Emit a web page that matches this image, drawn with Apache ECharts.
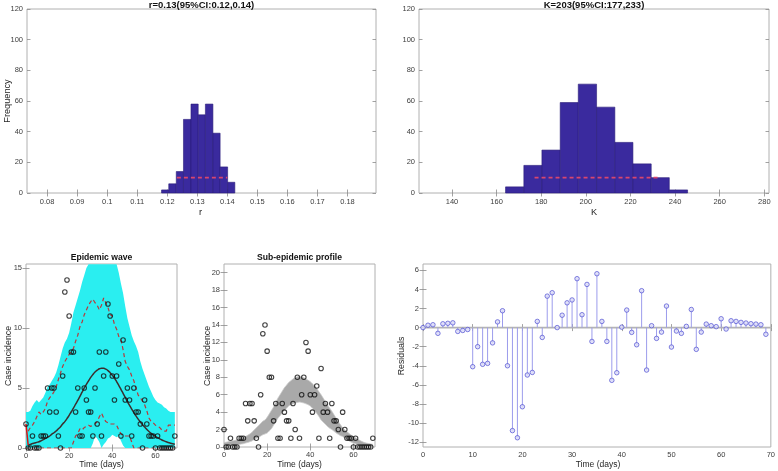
<!DOCTYPE html>
<html>
<head>
<meta charset="utf-8">
<script src="https://cdn.jsdelivr.net/npm/echarts@6/dist/echarts.min.js"></script>
<style>
html,body{margin:0;padding:0;background:#fff;}
#c{width:778px;height:471px;}
</style>
</head>
<body>
<div id="c"></div>
<script>
// ---------- data ----------
const rBinEdges = [0.1181,0.1205,0.1230,0.1254,0.1279,0.1303,0.1327,0.1352,0.1376,0.1401,0.1425];
const rCounts   = [2,6,14,48,58,51,58,39,17,7];
const rCI       = [0.1232,0.1400];
const kBinEdges = [164.0,172.2,180.3,188.5,196.6,204.8,213.0,221.1,229.3,237.4,245.6];
const kCounts   = [4,18,28,59,71,56,33,19,10,2];
const kCI       = [177,233];
const ciLevel   = 10;

const days = [0,1,2,3,4,5,6,7,8,9,10,11,12,13,14,15,16,17,18,19,20,21,22,23,24,25,26,27,28,29,30,31,32,33,34,35,36,37,38,39,40,41,42,43,44,45,46,47,48,49,50,51,52,53,54,55,56,57,58,59,60,61,62,63,64,65,66,67,68,69];
const cases = [2,0,0,1,0,0,0,1,1,1, 5,3,5,5,3,1,0,6,13,14, 11,8,8,3,5,1,1,5,4,3, 3,1,5,2,8,1,6,8,12,11, 6,4,6,7,1,9,4,5,4,1, 5,3,3,2,0,4,2,1,1,1, 0,1,0,0,0,0,0,0,0,1];
const fitDays = [1,2,3,4,5,6,7,8,9,10,11,12,13,14,15,16,17,18,19,20,21,22,23,24,25,26,27,28,29,30,31,32,33,34,35,36,37,38,39,40,41,42,43,44,45,46,47,48,49,50,51,52,53,54,55,56,57,58,59,60,61,62,63,64,65,66,67,68,69];
const fitVals = [0.25,0.3,0.37,0.42,0.47,0.52,0.6,0.7,0.8,0.9,1.0,1.15,1.27,1.42,1.6,1.78,2.0,2.2,2.45,2.72,3.02,3.32,3.65,3.97,4.3,4.65,5.0,5.3,5.6,5.88,6.12,6.33,6.48,6.6,6.65,6.64,6.57,6.45,6.27,6.06,5.82,5.53,5.22,4.89,4.55,4.21,3.87,3.55,3.24,2.95,2.67,2.41,2.17,1.94,1.74,1.55,1.38,1.23,1.09,0.97,0.86,0.76,0.67,0.59,0.52,0.46,0.4,0.35,0.31];
const fitStart = [[0,2],[1,0.25]];
const cyanLow  = [0,0,0,0,0,0,0,0,0,0, 0,0,0,0,0,0,0,0,0,0, 0,0,0,0,0,0,0,0,0,0, 0,0.4,1.0,0.8,0.5,0,0.3,0.5,0.8,0.9, 1.1,1.0,0.9,1.0,0.6,0.2,0,0,0,0, 0,0,0,0,0,0,0,0,0,0, 0,0,0,0,0,0,0,0,0,0];
const cyanHigh = [3.0,3.0,3.1,3.5,3.8,4.0,3.8,4.0,4.2,4.6, 5.1,5.3,5.6,5.9,6.3,6.9,7.6,8.3,8.8,9.1, 9.6,10.4,11.3,11.9,12.5,13.1,13.8,14.4,15.0,15.3, 15.3,15.3,15.3,15.3,15.3,15.3,15.3,15.3,15.3,15.3, 15.3,15.3,15.3,14.6,13.7,12.9,11.8,10.8,10.1,9.4, 8.9,8.5,8.0,7.2,6.6,6.1,5.6,5.1,4.7,4.3, 4.0,3.8,3.7,3.6,3.4,3.3,3.1,3.0,3.0,3.0];
const piUpperDays = [1,2,3,4,5,6,7,8,9,10,11,12,13,14,15,16,17,18,19,20,21,22,23,24,25,26,27,28,29,30,31,32,33,34,35,36,37,38,39,40,41,42,43,44,45,46,47,48,49,50,51,52,53,54,55,56,57,58,59,60,61,62,63,64,65,66,67,68,69];
const piUpper = [1.4,1.7,1.9,2.2,2.6,3.0,2.8,3.0,3.3,3.9,4.2,4.4,4.7,5.1,5.7,6.25,6.8,7.2,7.5,7.8,8.05,8.3,8.9,9.4,10.1,10.5,11.1,11.5,11.9,12.2,12.4,12.1,11.9,11.5,11.9,12.5,12.1,11.7,11.1,11.0,10.3,9.9,9.3,9.0,8.2,7.2,6.8,6.5,6.0,5.6,5.0,4.4,4.2,3.9,3.6,3.1,2.5,2.2,2.1,1.9,1.8,1.7,1.5,1.4,1.4,1.9,1.9,1.9,1.9];
const piLower = [0,0,0,0,0,0,0,0,0,0, 0,0,0,0,0,0,0,0,0,0, 0,0,0.5,1.0,1.2,1.6,1.5,1.7,1.8,1.9, 1.8,1.9,2.0,2.2,2.6,2.9,2.5,2.2,2.1,2.0, 2.0,2.0,1.9,1.5,1.2,1.0,1.0,1.0,1.0,0.5, 0,0,0,0,0,0,0,0,0,0, 0,0,0,0,0,0,0,0,0,0];
const profHigh = [0.5,0.55,0.6,0.65,0.7,0.75,0.8,0.9,1.0,1.1, 1.2,1.35,1.5,1.7,1.95,2.2,2.45,2.7,2.95,3.1, 3.4,3.8,4.2,4.6,5.1,5.6,6.0,6.4,6.8,7.1, 7.4,7.6,7.8,7.95,8.05,8.1,8.05,7.95,7.8,7.65, 7.5,7.25,7.0,6.7,6.35,6.0,5.6,5.2,4.8,4.45, 4.1,3.7,3.3,2.9,2.55,2.2,1.95,1.75,1.55,1.35, 1.2,1.05,0.9,0.75,0.62,0.52,0.45,0.4,0.35,0.3];
const profLow  = [0.1,0.12,0.14,0.16,0.18,0.2,0.24,0.28,0.33,0.38, 0.45,0.52,0.6,0.7,0.85,1.0,1.1,1.25,1.4,1.5, 1.6,1.85,2.1,2.5,2.9,3.3,3.6,3.9,4.2,4.45, 4.7,4.85,4.95,5.05,5.1,5.15,5.1,5.05,4.95,4.85, 4.7,4.45,4.2,3.85,3.5,3.1,2.85,2.6,2.35,2.15, 2.0,1.8,1.6,1.45,1.3,1.2,1.0,0.85,0.7,0.55, 0.45,0.37,0.3,0.24,0.19,0.15,0.12,0.1,0.08,0.07];
const residuals = [0,0.25,0.3,-0.6,0.4,0.45,0.5,-0.4,-0.3,-0.2, -4.1,-2.0,-3.85,-3.75,-1.6,0.6,1.77,-4.0,-10.8,-11.55, -8.3,-4.97,-4.7,0.65,-1.03,3.3,3.66,0,1.3,2.6, 2.9,5.13,1.35,4.53,-1.45,5.65,0.65,-1.45,-5.53,-4.73, 0.05,1.84,-0.5,-1.8,3.87,-4.45,0.2,-1.13,-0.47,2.26, -2.04,-0.36,-0.6,0.13,1.9,-2.28,-0.47,0.37,0.2,0.1, 0.93,-0.15,0.72,0.65,0.55,0.48,0.41,0.37,0.3,-0.7];

const rTicks = [0.08,0.09,0.10,0.11,0.12,0.13,0.14,0.15,0.16,0.17,0.18];
const kTicks = [140,160,180,200,220,240,260,280];
const freqTicks = [0,20,40,60,80,100,120];
const timeTicks = [0,20,40,60];
const waveYTicks = [0,5,10,15];
const profYTicks = [0,2,4,6,8,10,12,14,16,18,20];
const resXTicks = [0,10,20,30,40,50,60,70];
const resYTicks = [-12,-10,-8,-6,-4,-2,0,2,4,6];

const titles = ['r=0.13(95%CI:0.12,0.14)','K=203(95%CI:177,233)','Epidemic wave','Sub-epidemic profile'];

// ---------- helpers ----------
const FONT = '"Liberation Sans", Arial, Helvetica, sans-serif';
const grids = [
  {left:27, top:9, width:349, height:184},
  {left:419, top:9, width:350, height:184},
  {left:26, top:264, width:151, height:184},
  {left:224, top:264, width:151, height:183},
  {left:423, top:264, width:350, height:183}
];
const xr = [[0.0733,0.1895],[125.2,282.1],[0,70],[0,70],[0,70]];
const yr = [[0,120],[0,120],[0,15.33],[0,21],[-12.52,6.67]];
const xt = [rTicks,kTicks,timeTicks,timeTicks,resXTicks];
const yt = [freqTicks,freqTicks,waveYTicks,profYTicks,resYTicks];

const fmt = v => String(+(+v).toFixed(2));
const tickStyle = {color:'#8a8a8a', width:0.8};
const xAxes = [], yAxes = [];
grids.forEach((g,i)=>{
  xAxes.push({type:'value', gridIndex:i, min:xr[i][0], max:xr[i][1], position:'bottom',
    axisLine:{show:false}, splitLine:{show:false},
    axisTick:{show:true, inside:true, length:3.5, customValues:xt[i], lineStyle:tickStyle},
    axisLabel:{show:true, inside:false, customValues:xt[i], formatter:fmt, margin:i<2?5:4, fontSize:7.5, color:'#3c3c3c', fontFamily:FONT}});
  xAxes.push({type:'value', gridIndex:i, min:xr[i][0], max:xr[i][1], position:'top',
    axisLine:{show:false}, splitLine:{show:false},
    axisTick:{show:true, inside:true, length:3.5, customValues:xt[i], lineStyle:tickStyle},
    axisLabel:{show:false}});
  yAxes.push({type:'value', gridIndex:i, min:yr[i][0], max:yr[i][1], position:'left',
    axisLine:{show:false}, splitLine:{show:false},
    axisTick:{show:true, inside:true, length:3.5, customValues:yt[i], lineStyle:tickStyle},
    axisLabel:{show:true, inside:false, customValues:yt[i], formatter:fmt, margin:4, fontSize:7.5, color:'#3c3c3c', fontFamily:FONT}});
  yAxes.push({type:'value', gridIndex:i, min:yr[i][0], max:yr[i][1], position:'right',
    axisLine:{show:false}, splitLine:{show:false},
    axisTick:{show:true, inside:true, length:3.5, customValues:yt[i], lineStyle:tickStyle},
    axisLabel:{show:false}});
});
const gridOpts = grids.map(g=>Object.assign({show:true, borderColor:'#b0b0b0', borderWidth:1, backgroundColor:'#fff', containLabel:false}, g));

function histItems(edges, counts){ return counts.map((c,i)=>[edges[i], edges[i+1], c]); }
function histRender(params, api){
  const p0 = api.coord([api.value(0), api.value(2)]);
  const p1 = api.coord([api.value(1), 0]);
  return {type:'rect', shape:{x:p0[0], y:p0[1], width:p1[0]-p0[0], height:p1[1]-p0[1]},
    style:{fill:'#3a2a9e', stroke:'#2a1c78', lineWidth:0.6}};
}
function bandRender(lower, upper, fill){
  return function(params, api){
    const pts = [];
    for (let i=0;i<days.length;i++) pts.push(api.coord([days[i], upper[i]]));
    for (let i=days.length-1;i>=0;i--) pts.push(api.coord([days[i], lower[i]]));
    return {type:'polygon', shape:{points:pts}, style:{fill:fill}};
  };
}
function stemRender(params, api){
  const a = api.coord([api.value(0), 0]);
  const b = api.coord([api.value(0), api.value(1)]);
  return {type:'line', shape:{x1:a[0], y1:a[1], x2:b[0], y2:b[1]}, style:{stroke:'#9c9cec', lineWidth:1}};
}
const pairs = (xs, ys) => xs.map((x,i)=>[x, ys[i]]);
const ax = i => ({xAxisIndex:2*i, yAxisIndex:2*i});
const dot = {color:'rgba(255,255,255,0)', borderColor:'#111', borderWidth:1.1};

const series = [
  Object.assign({type:'custom', renderItem:histRender, data:histItems(rBinEdges, rCounts), z:2}, ax(0)),
  Object.assign({type:'line', data:[[rCI[0],ciLevel],[rCI[1],ciLevel]], symbol:'none', z:3,
    lineStyle:{color:'#d8466e', width:1.6, type:[4,3]}}, ax(0)),
  Object.assign({type:'custom', renderItem:histRender, data:histItems(kBinEdges, kCounts), z:2}, ax(1)),
  Object.assign({type:'line', data:[[kCI[0],ciLevel],[kCI[1],ciLevel]], symbol:'none', z:3,
    lineStyle:{color:'#d8466e', width:1.6, type:[4,3]}}, ax(1)),
  // epidemic wave
  Object.assign({type:'custom', renderItem:bandRender(cyanLow, cyanHigh, '#2aeef0'), data:[[0,0]], clip:true, z:2}, ax(2)),
  Object.assign({type:'line', data:pairs(piUpperDays, piUpper), symbol:'none', z:3,
    lineStyle:{color:'#b8383a', width:1.2, type:[4,3]}}, ax(2)),
  Object.assign({type:'line', data:pairs(days, piLower), symbol:'none', z:3,
    lineStyle:{color:'#b8383a', width:1.2, type:[4,3]}}, ax(2)),
  Object.assign({type:'line', data:pairs(fitDays, fitVals), symbol:'none', smooth:true, z:4,
    lineStyle:{color:'#3a2e2e', width:1.5}}, ax(2)),
  Object.assign({type:'line', data:fitStart, symbol:'none', z:4,
    lineStyle:{color:'#e01010', width:1.5}}, ax(2)),
  Object.assign({type:'scatter', data:pairs(days, cases), symbol:'circle', symbolSize:4.5, z:5,
    itemStyle:dot}, ax(2)),
  // sub-epidemic profile
  Object.assign({type:'custom', renderItem:bandRender(profLow, profHigh, '#a9a9a9'), data:[[0,0]], clip:true, z:2}, ax(3)),
  Object.assign({type:'line', data:pairs(days, profHigh), symbol:'none', smooth:true, z:3,
    lineStyle:{color:'#c4c4c4', width:0.8}}, ax(3)),
  Object.assign({type:'line', data:pairs(days, profLow), symbol:'none', smooth:true, z:3,
    lineStyle:{color:'#cfcfcf', width:0.8}}, ax(3)),
  Object.assign({type:'scatter', data:pairs(days, cases), symbol:'circle', symbolSize:4.5, z:5,
    itemStyle:dot}, ax(3)),
  // residuals
  Object.assign({type:'line', data:[[0,0],[70,0]], symbol:'none', z:2,
    lineStyle:{color:'#b4b4b4', width:1.6}}, ax(4)),
  Object.assign({type:'custom', renderItem:stemRender, data:pairs(days, residuals), z:3}, ax(4)),
  Object.assign({type:'scatter', data:pairs(days, residuals), symbol:'circle', symbolSize:4.5, z:4,
    itemStyle:{color:'#dcdcf8', borderColor:'#5050d2', borderWidth:0.9}}, ax(4))
];

function txt(x, y, text, opts){
  return {type:'text', x:x, y:y, rotation:opts.rot||0, z:100,
    style:{text:text, fill:opts.color||'#262626', font:(opts.bold?'bold ':'')+(opts.size||11)+'px '+FONT,
      textAlign:'center', textVerticalAlign:'middle'}};
}
const graphic = [
  txt(201.5, 5.5, titles[0], {bold:true, size:9.5, color:'#111'}),
  txt(594, 5.5, titles[1], {bold:true, size:9.5, color:'#111'}),
  txt(101.5, 258, titles[2], {bold:true, size:8.6, color:'#111'}),
  txt(299.5, 258, titles[3], {bold:true, size:8.6, color:'#111'}),
  txt(7, 101, 'Frequency', {rot:Math.PI/2, size:9.2}),
  txt(200.5, 212, 'r', {size:9.2}),
  txt(594, 212, 'K', {size:9.2}),
  txt(9, 356, 'Case incidence', {rot:Math.PI/2, size:8.8}),
  txt(208, 356, 'Case incidence', {rot:Math.PI/2, size:8.8}),
  txt(402, 356, 'Residuals', {rot:Math.PI/2, size:8.8}),
  txt(101.5, 465, 'Time (days)', {size:8.5}),
  txt(299.5, 465, 'Time (days)', {size:8.5}),
  txt(598, 465, 'Time (days)', {size:8.5})
];

const chart = echarts.init(document.getElementById('c'), null, {renderer:'canvas'});
chart.setOption({
  animation:false,
  backgroundColor:'#fff',
  textStyle:{fontFamily:FONT},
  grid:gridOpts,
  xAxis:xAxes,
  yAxis:yAxes,
  series:series,
  graphic:graphic
});
</script>
</body>
</html>
